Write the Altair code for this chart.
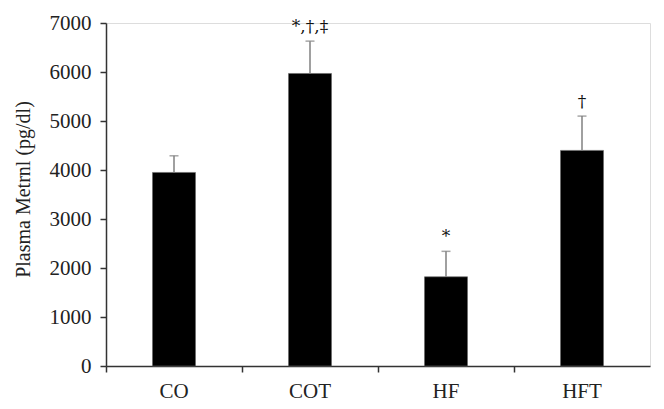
import altair as alt
import pandas as pd

groups = ["CO", "COT", "HF", "HFT"]
means = [3950, 5970, 1820, 4400]
upper = [4290, 6630, 2340, 5100]
marks = ["", "*,†,‡", "*", "†"]

df = pd.DataFrame({"group": groups, "mean": means, "upper": upper, "mark": marks})

FONT = "Liberation Serif"

x = alt.X("group:N", sort=groups, title=None,
          scale=alt.Scale(paddingInner=0, paddingOuter=0),
          axis=alt.Axis(labelAngle=0, bandPosition=0, labelFontSize=21, labelFont=FONT,
                        labelColor="#222", labelPadding=8, tickSize=6, tickColor="#333",
                        domainColor="#333", domainWidth=1.5, tickWidth=1.5, grid=False))
y = alt.Y("mean:Q", title="Plasma Metrnl (pg/dl)",
          scale=alt.Scale(domain=[0, 7000], nice=False),
          axis=alt.Axis(values=list(range(0, 7001, 1000)), format="d", labelFontSize=21, labelFont=FONT,
                        labelColor="#222", labelPadding=9, tickSize=6, tickColor="#333",
                        domainColor="#333", domainWidth=1.5, tickWidth=1.5, grid=False,
                        titleFont=FONT, titleFontSize=20, titleFontWeight="normal",
                        titleColor="#222", titleX=-83, titleY=166, titleAngle=-90,
                        titleAlign="center", titleBaseline="middle"))

bars = alt.Chart(df).mark_bar(size=43, color="black", stroke="#666", strokeWidth=0.6).encode(x=x, y=y)

err = alt.Chart(df).mark_rule(color="#808080", strokeWidth=1.5).encode(
    x=alt.X("group:N", sort=groups), y="mean:Q", y2="upper:Q")

caps = alt.Chart(df).mark_tick(color="#808080", thickness=1.5, size=9, orient="horizontal").encode(
    x=alt.X("group:N", sort=groups), y="upper:Q")

labels = alt.Chart(df).mark_text(font="DejaVu Serif", fontSize=17, color="#111", dy=-14, baseline="middle").encode(
    x=alt.X("group:N", sort=groups), y="upper:Q", text="mark:N")

chart = (bars + err + caps + labels).properties(
    width=544, height=343,
    autosize=alt.AutoSizeParams(type="none"),
    padding={"left": 98, "top": 15, "right": 6, "bottom": 42},
).configure_view(stroke=None).configure(background="white")

chart.save("out.html", embed_options={"renderer": "svg", "actions": False})
